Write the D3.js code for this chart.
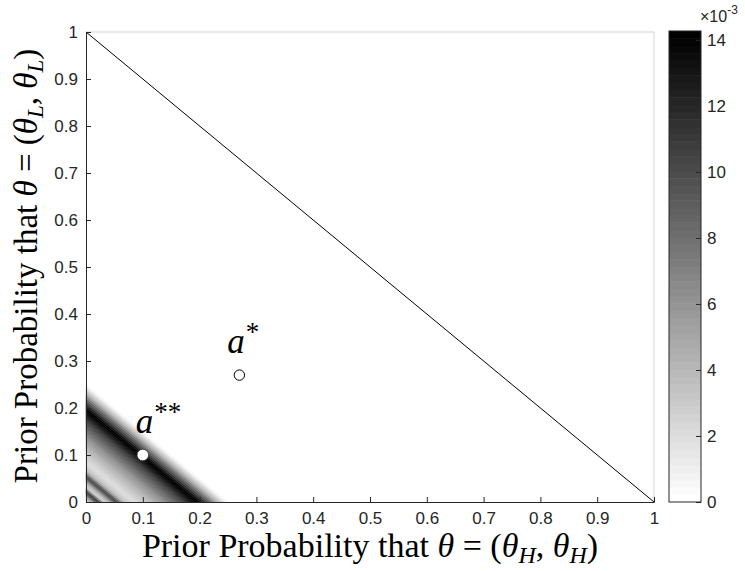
<!DOCTYPE html>
<html>
<head>
<meta charset="utf-8">
<script src="https://cdn.jsdelivr.net/npm/d3@7"></script>
<style>
  body { margin: 0; background: #fff; }
  svg { display: block; }
</style>
</head>
<body>
<div id="chart"></div>
<script>
// prior sum theta_HH + theta_LL, sampled along the diagonal bands
const priorSum = [
  0.000, 0.005, 0.010, 0.015, 0.020, 0.025, 0.030, 0.035, 0.040, 0.045,
  0.050, 0.055, 0.060, 0.065, 0.070, 0.075, 0.080, 0.085, 0.090, 0.095,
  0.100, 0.105, 0.110, 0.115, 0.120, 0.125, 0.130, 0.135, 0.140, 0.145,
  0.150, 0.155, 0.160, 0.165, 0.170, 0.175, 0.180, 0.185, 0.190, 0.195,
  0.200, 0.205, 0.210, 0.215, 0.220, 0.225, 0.230, 0.235, 0.240, 0.245,
  0.250
];
// value of the surface at each band (x 10^-3)
const bandValue = [
  3.0, 4.0, 6.0, 9.0, 10.5, 7.0, 3.0, 3.5, 5.0, 7.5,
  10.0, 9.0, 6.0, 4.0, 3.0, 2.5, 2.2, 2.2, 2.4, 2.7,
  3.0, 3.4, 3.8, 4.2, 4.7, 5.2, 5.7, 6.2, 6.8, 7.4,
  8.0, 8.6, 9.2, 9.9, 10.6, 11.4, 12.3, 13.2, 14.0, 14.2,
  13.0, 11.5, 10.0, 8.5, 7.0, 5.5, 4.0, 2.8, 1.6, 0.6,
  0.0
];
const colorMax = 14.27;

const axisTicks = [0, 0.1, 0.2, 0.3, 0.4, 0.5, 0.6, 0.7, 0.8, 0.9, 1];
const colorTicks = [0, 2, 4, 6, 8, 10, 12, 14];

const diagonal = [[0, 1], [1, 0]];
const markers = [
  {label: 'a', stars: '*', x: 0.27, y: 0.27},
  {label: 'a', stars: '**', x: 0.10, y: 0.10},
];

const width = 745;
const height = 571;
const plot = {left: 86, right: 654, top: 32, bottom: 502};
const ink = '#262626';
const sans = '"Liberation Sans", Arial, sans-serif';
const serif = '"Liberation Serif", "Times New Roman", serif';
const tickFont = '17px';

const svg = d3.select('#chart').append('svg')
  .attr('width', width)
  .attr('height', height);

const x = d3.scaleLinear().domain([0, 1]).range([plot.left, plot.right]);
const y = d3.scaleLinear().domain([0, 1]).range([plot.bottom, plot.top]);

// flipped gray colormap, 64 levels like matlab
const grays = d3.range(64).map(i => {
  const g = Math.round(255 * (1 - i / 63));
  return d3.rgb(g, g, g).toString();
});
const color = d3.scaleQuantize().domain([0, colorMax]).range(grays);

// heat surface: each band is the strip s0 <= x + y < s1 in the unit square
const bands = priorSum.slice(0, -1).map((s0, i) => ({
  s0, s1: priorSum[i + 1], v: bandValue[i]
}));
svg.append('g')
  .selectAll('path')
  .data(bands)
  .join('path')
  .attr('d', b => 'M' + [
      [x(b.s0), y(0)], [x(b.s1), y(0)], [x(0), y(b.s1)], [x(0), y(b.s0)]
    ].join('L') + 'Z')
  .attr('fill', b => color(b.v))
  .attr('stroke', b => color(b.v))
  .attr('stroke-width', 0.6);

// box: matlab draws the far edges light
svg.append('path')
  .attr('d', `M${plot.left},${plot.top}H${plot.right}V${plot.bottom}`)
  .attr('fill', 'none')
  .attr('stroke', '#d4d4d4')
  .attr('stroke-width', 1);

// diagonal constraint line
svg.append('path')
  .datum(diagonal)
  .attr('d', d3.line().x(d => x(d[0])).y(d => y(d[1])))
  .attr('fill', 'none')
  .attr('stroke', '#000')
  .attr('stroke-width', 1);

// axes, ticks pointing in
const xAxis = svg.append('g')
  .attr('transform', `translate(0,${plot.bottom})`)
  .call(d3.axisBottom(x).tickValues(axisTicks).tickFormat(d3.format('~g'))
    .tickSize(-5).tickSizeOuter(0).tickPadding(10));
const yAxis = svg.append('g')
  .attr('transform', `translate(${plot.left},0)`)
  .call(d3.axisLeft(y).tickValues(axisTicks).tickFormat(d3.format('~g'))
    .tickSize(-5).tickSizeOuter(0).tickPadding(8));
[xAxis, yAxis].forEach(a => {
  a.select('.domain').attr('stroke', ink);
  a.selectAll('.tick line').attr('stroke', ink);
  a.selectAll('.tick text')
    .attr('fill', ink)
    .style('font-family', sans)
    .style('font-size', tickFont);
});

// markers and their labels
const labelOffset = {'*': [-12, -22], '**': [-7, -22]};
svg.append('g')
  .selectAll('circle')
  .data(markers)
  .join('circle')
  .attr('cx', d => x(d.x))
  .attr('cy', d => y(d.y))
  .attr('r', d => d.stars === '**' ? 5.8 : 5.2)
  .attr('fill', '#fff')
  .attr('stroke', d => d.stars === '**' ? '#333' : '#000')
  .attr('stroke-width', d => d.stars === '**' ? 0.8 : 1);

const lbl = svg.append('g')
  .selectAll('text')
  .data(markers)
  .join('text')
  .attr('x', d => x(d.x) + labelOffset[d.stars][0])
  .attr('y', d => y(d.y) + labelOffset[d.stars][1])
  .style('font-family', serif)
  .style('font-size', '35px')
  .attr('fill', '#000');
lbl.append('tspan').style('font-style', 'italic').text(d => d.label);
lbl.append('tspan')
  .attr('dx', 1)
  .attr('dy', -12)
  .style('font-size', '27px')
  .text(d => d.stars);

// axis titles with math
function mathLabel(g, sub, size) {
  const subSize = Math.round(size * 0.7) + 'px';
  g.style('font-family', serif).style('font-size', size + 'px').attr('fill', '#000');
  g.append('tspan').text('Prior Probability that ');
  g.append('tspan').style('font-style', 'italic').text('\u03B8');
  g.append('tspan').text(' = (');
  g.append('tspan').style('font-style', 'italic').text('\u03B8');
  g.append('tspan').attr('dy', 6).style('font-style', 'italic').style('font-size', subSize).text(sub);
  g.append('tspan').attr('dy', -6).text(', ');
  g.append('tspan').style('font-style', 'italic').text('\u03B8');
  g.append('tspan').attr('dy', 6).style('font-style', 'italic').style('font-size', subSize).text(sub);
  g.append('tspan').attr('dy', -6).text(')');
}
mathLabel(svg.append('text')
  .attr('x', (plot.left + plot.right) / 2)
  .attr('y', 557)
  .attr('text-anchor', 'middle'), 'H', 34);
mathLabel(svg.append('text')
  .attr('transform', `translate(37,266) rotate(-90)`)
  .attr('text-anchor', 'middle'), 'L', 33);

// colorbar
const cb = {left: 669, right: 701, top: 31, bottom: 502};
const cy = d3.scaleLinear().domain([0, colorMax]).range([cb.bottom, cb.top]);
const levels = d3.range(64).map(i => i * colorMax / 64);
svg.append('g')
  .selectAll('rect')
  .data(levels)
  .join('rect')
  .attr('x', cb.left)
  .attr('width', cb.right - cb.left)
  .attr('y', d => cy(d + colorMax / 64))
  .attr('height', d => cy(d) - cy(d + colorMax / 64) + 0.5)
  .attr('fill', d => color(d + colorMax / 128));
svg.append('rect')
  .attr('x', cb.left).attr('y', cb.top)
  .attr('width', cb.right - cb.left).attr('height', cb.bottom - cb.top)
  .attr('fill', 'none').attr('stroke', ink).attr('stroke-width', 1);
const cAxis = svg.append('g')
  .attr('transform', `translate(${cb.right},0)`)
  .call(d3.axisRight(cy).tickValues(colorTicks).tickSize(-5).tickSizeOuter(0).tickPadding(6));
cAxis.select('.domain').remove();
cAxis.selectAll('.tick line').attr('stroke', ink);
cAxis.selectAll('.tick text')
  .attr('fill', ink)
  .style('font-family', sans)
  .style('font-size', tickFont);

const expo = svg.append('text')
  .attr('x', 700).attr('y', 22)
  .attr('fill', ink)
  .style('font-family', sans)
  .style('font-size', '16px');
expo.append('tspan').text('\u00D710');
expo.append('tspan').attr('dy', -8).style('font-size', '12px').text('-3');
</script>
</body>
</html>
